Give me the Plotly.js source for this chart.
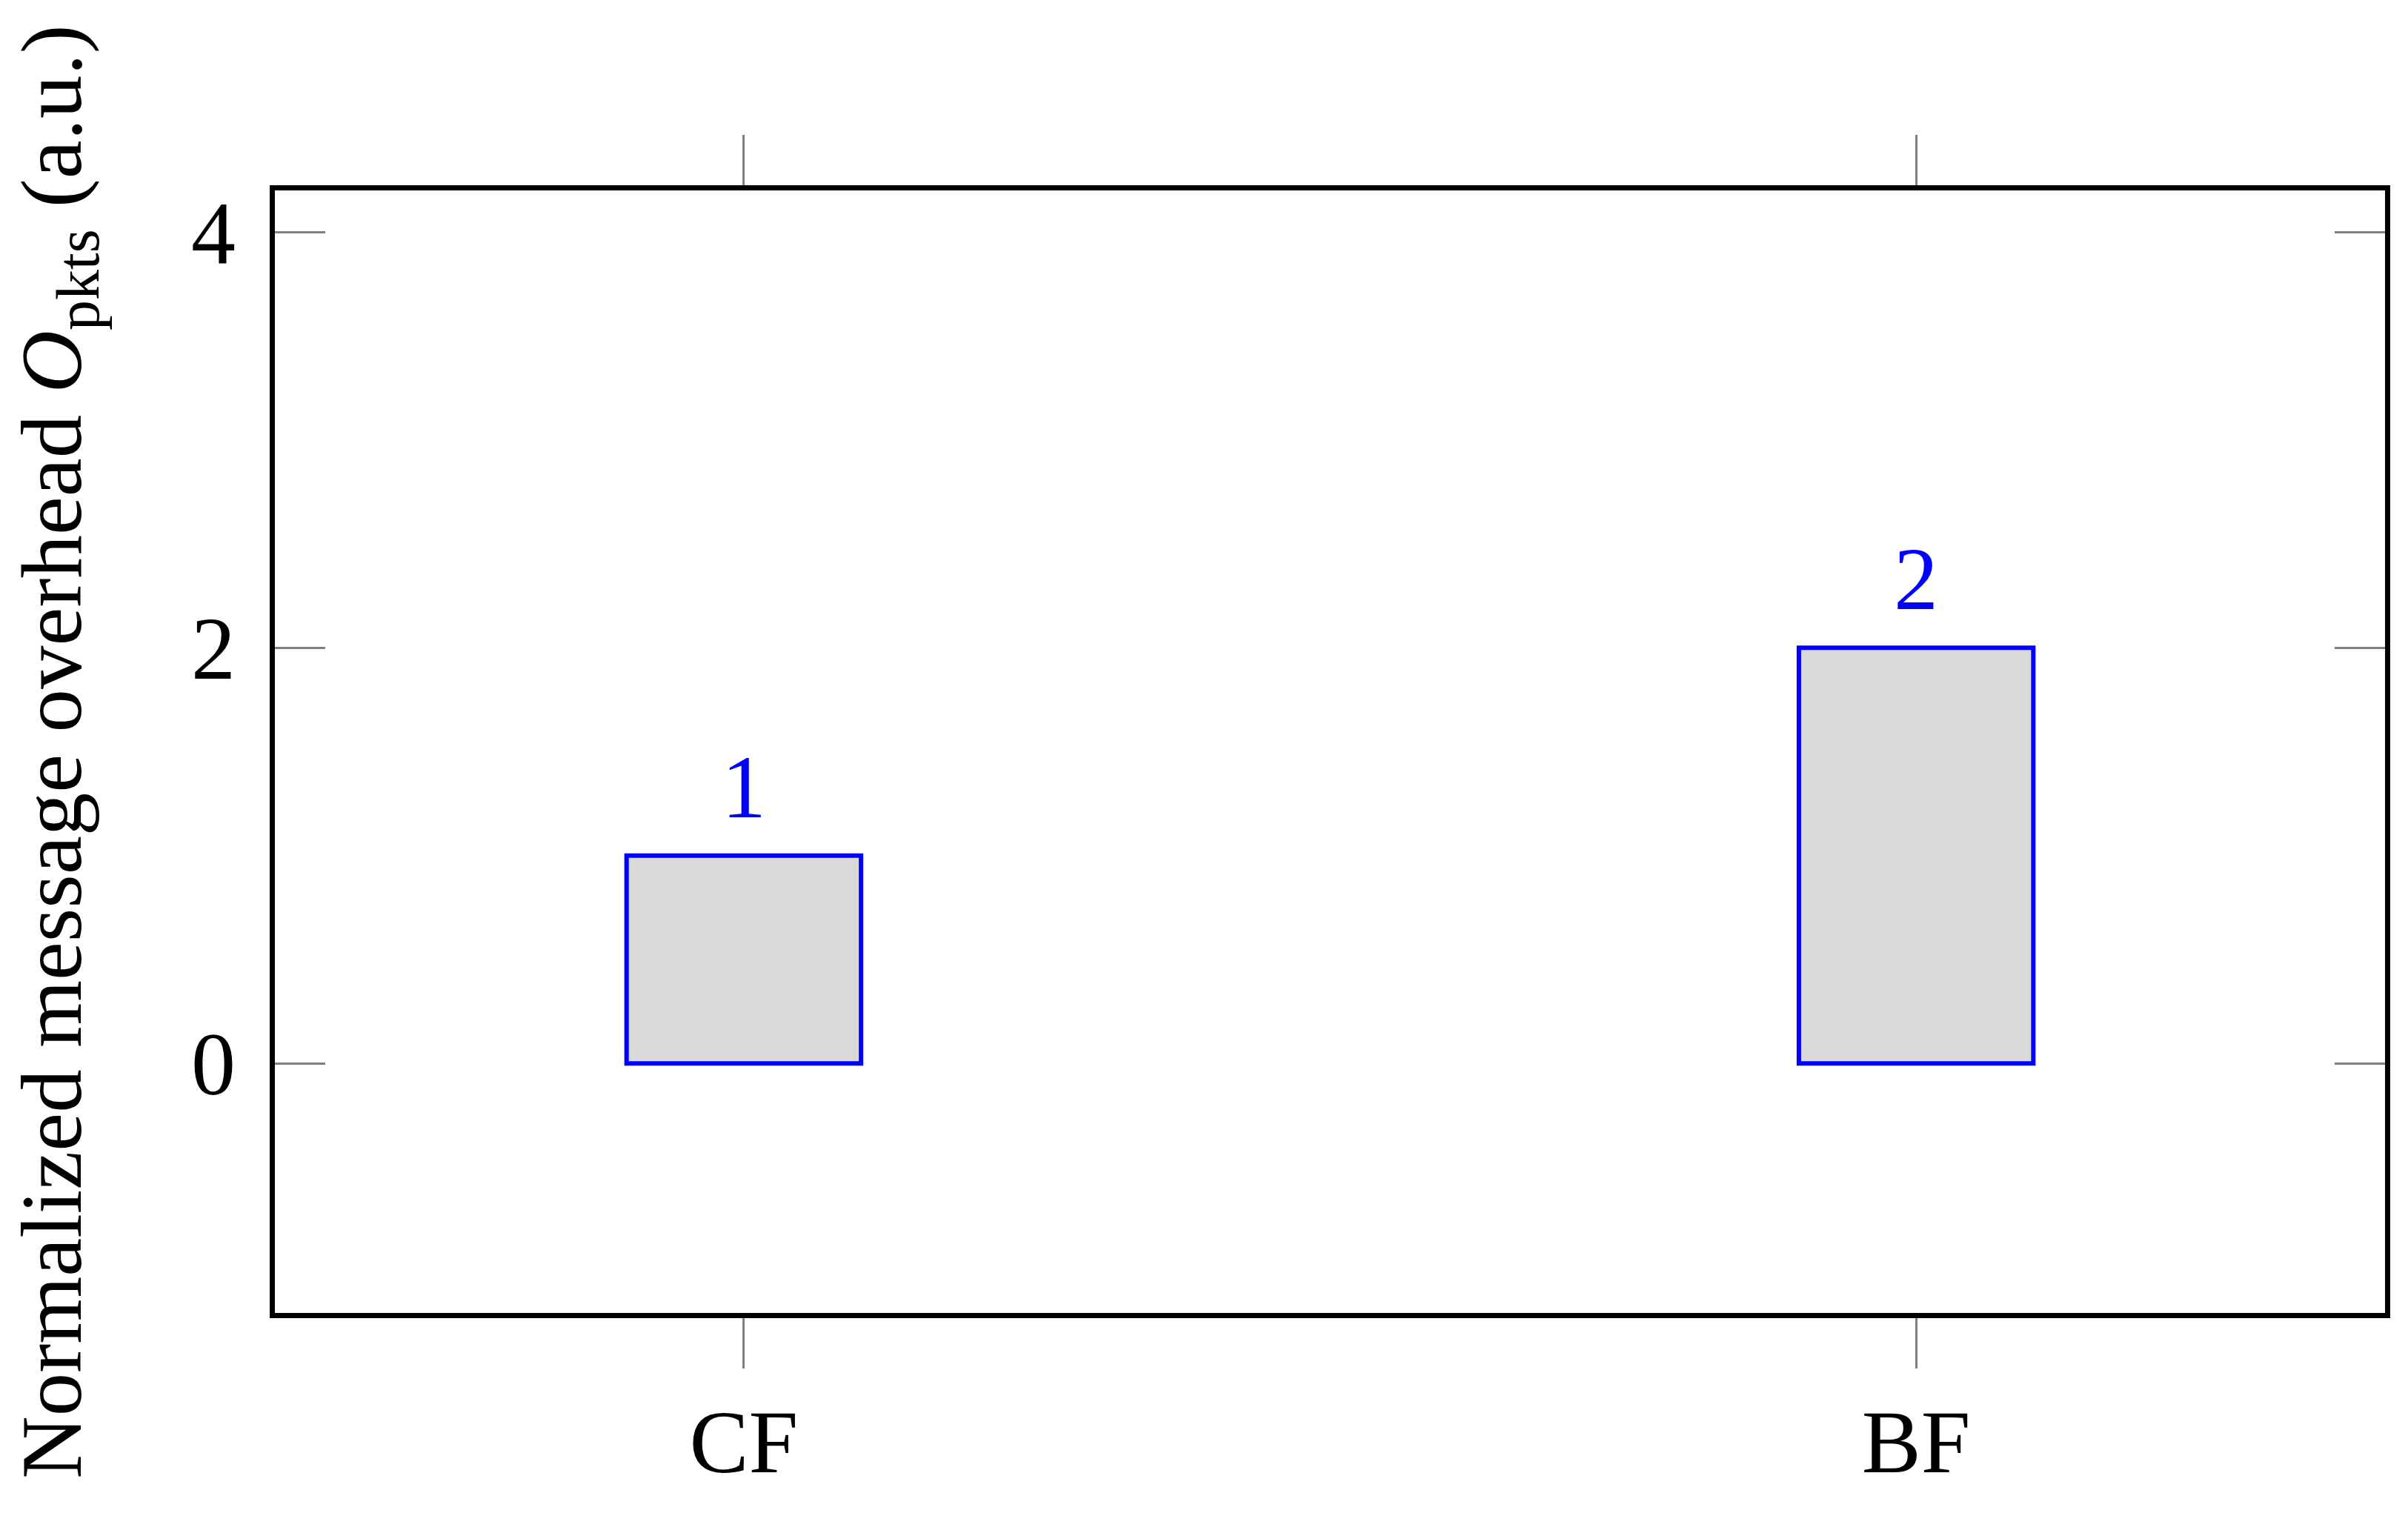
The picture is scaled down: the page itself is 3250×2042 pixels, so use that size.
<!DOCTYPE html>
<html>
<head>
<meta charset="utf-8">
<script src="https://cdn.plot.ly/plotly-3.0.1.min.js"></script>
<style>
  html, body { margin: 0; padding: 0; background: #fff; }
  #chart { width: 3250px; height: 2042px; }
</style>
</head>
<body>
<div id="chart"></div>
<script>
// data
const categories = ['CF', 'BF'];
const overhead = [1, 2];
const yTicks = [0, 2, 4];

const FONT = 'Liberation Serif, DejaVu Serif, serif';
const BLUE = '#0000ff';
const TICK_GREY = '#808080';
const FS = 120;

const bars = {
    type: 'bar',
    x: categories,
    y: overhead,
    width: 0.2,
    marker: { color: '#d9d9d9', line: { color: BLUE, width: 6 } },
    hoverinfo: 'none',
};

// value labels above each bar
const labels = categories.map((c, i) => ({
    x: c, y: overhead[i], xref: 'x', yref: 'y',
    text: String(overhead[i]),
    showarrow: false, yanchor: 'bottom', yshift: 24,
    font: { family: FONT, size: FS, color: BLUE },
}));

const axisBase = {
    showline: true, mirror: 'ticks', linecolor: '#000', linewidth: 7,
    ticklen: 68, tickwidth: 3, tickcolor: TICK_GREY,
    showgrid: false, zeroline: false,
    tickfont: { family: FONT, size: FS, color: '#000' },
};

const layout = {
    width: 3250, height: 2042,
    margin: { l: 371, r: 31, t: 257, b: 270 },
    paper_bgcolor: '#fff', plot_bgcolor: '#fff',
    showlegend: false,
    font: { family: FONT, color: '#000' },
    xaxis: Object.assign({}, axisBase, {
        type: 'category', range: [-0.4, 1.4], ticks: 'outside',
        ticklabelstandoff: -4,
    }),
    yaxis: Object.assign({}, axisBase, {
        range: [-1.2, 4.2], tickvals: yTicks, ticks: 'inside',
        ticklabelstandoff: 22,
        title: {
            text: 'Normalized message overhead <i>O</i><sub>pkts</sub> (a.u.)',
            font: { family: FONT, size: 117, color: '#000' },
            standoff: 112,
        },
    }),
    annotations: labels,
};

Plotly.newPlot('chart', [bars], layout, { displayModeBar: false, staticPlot: true });
</script>
</body>
</html>
